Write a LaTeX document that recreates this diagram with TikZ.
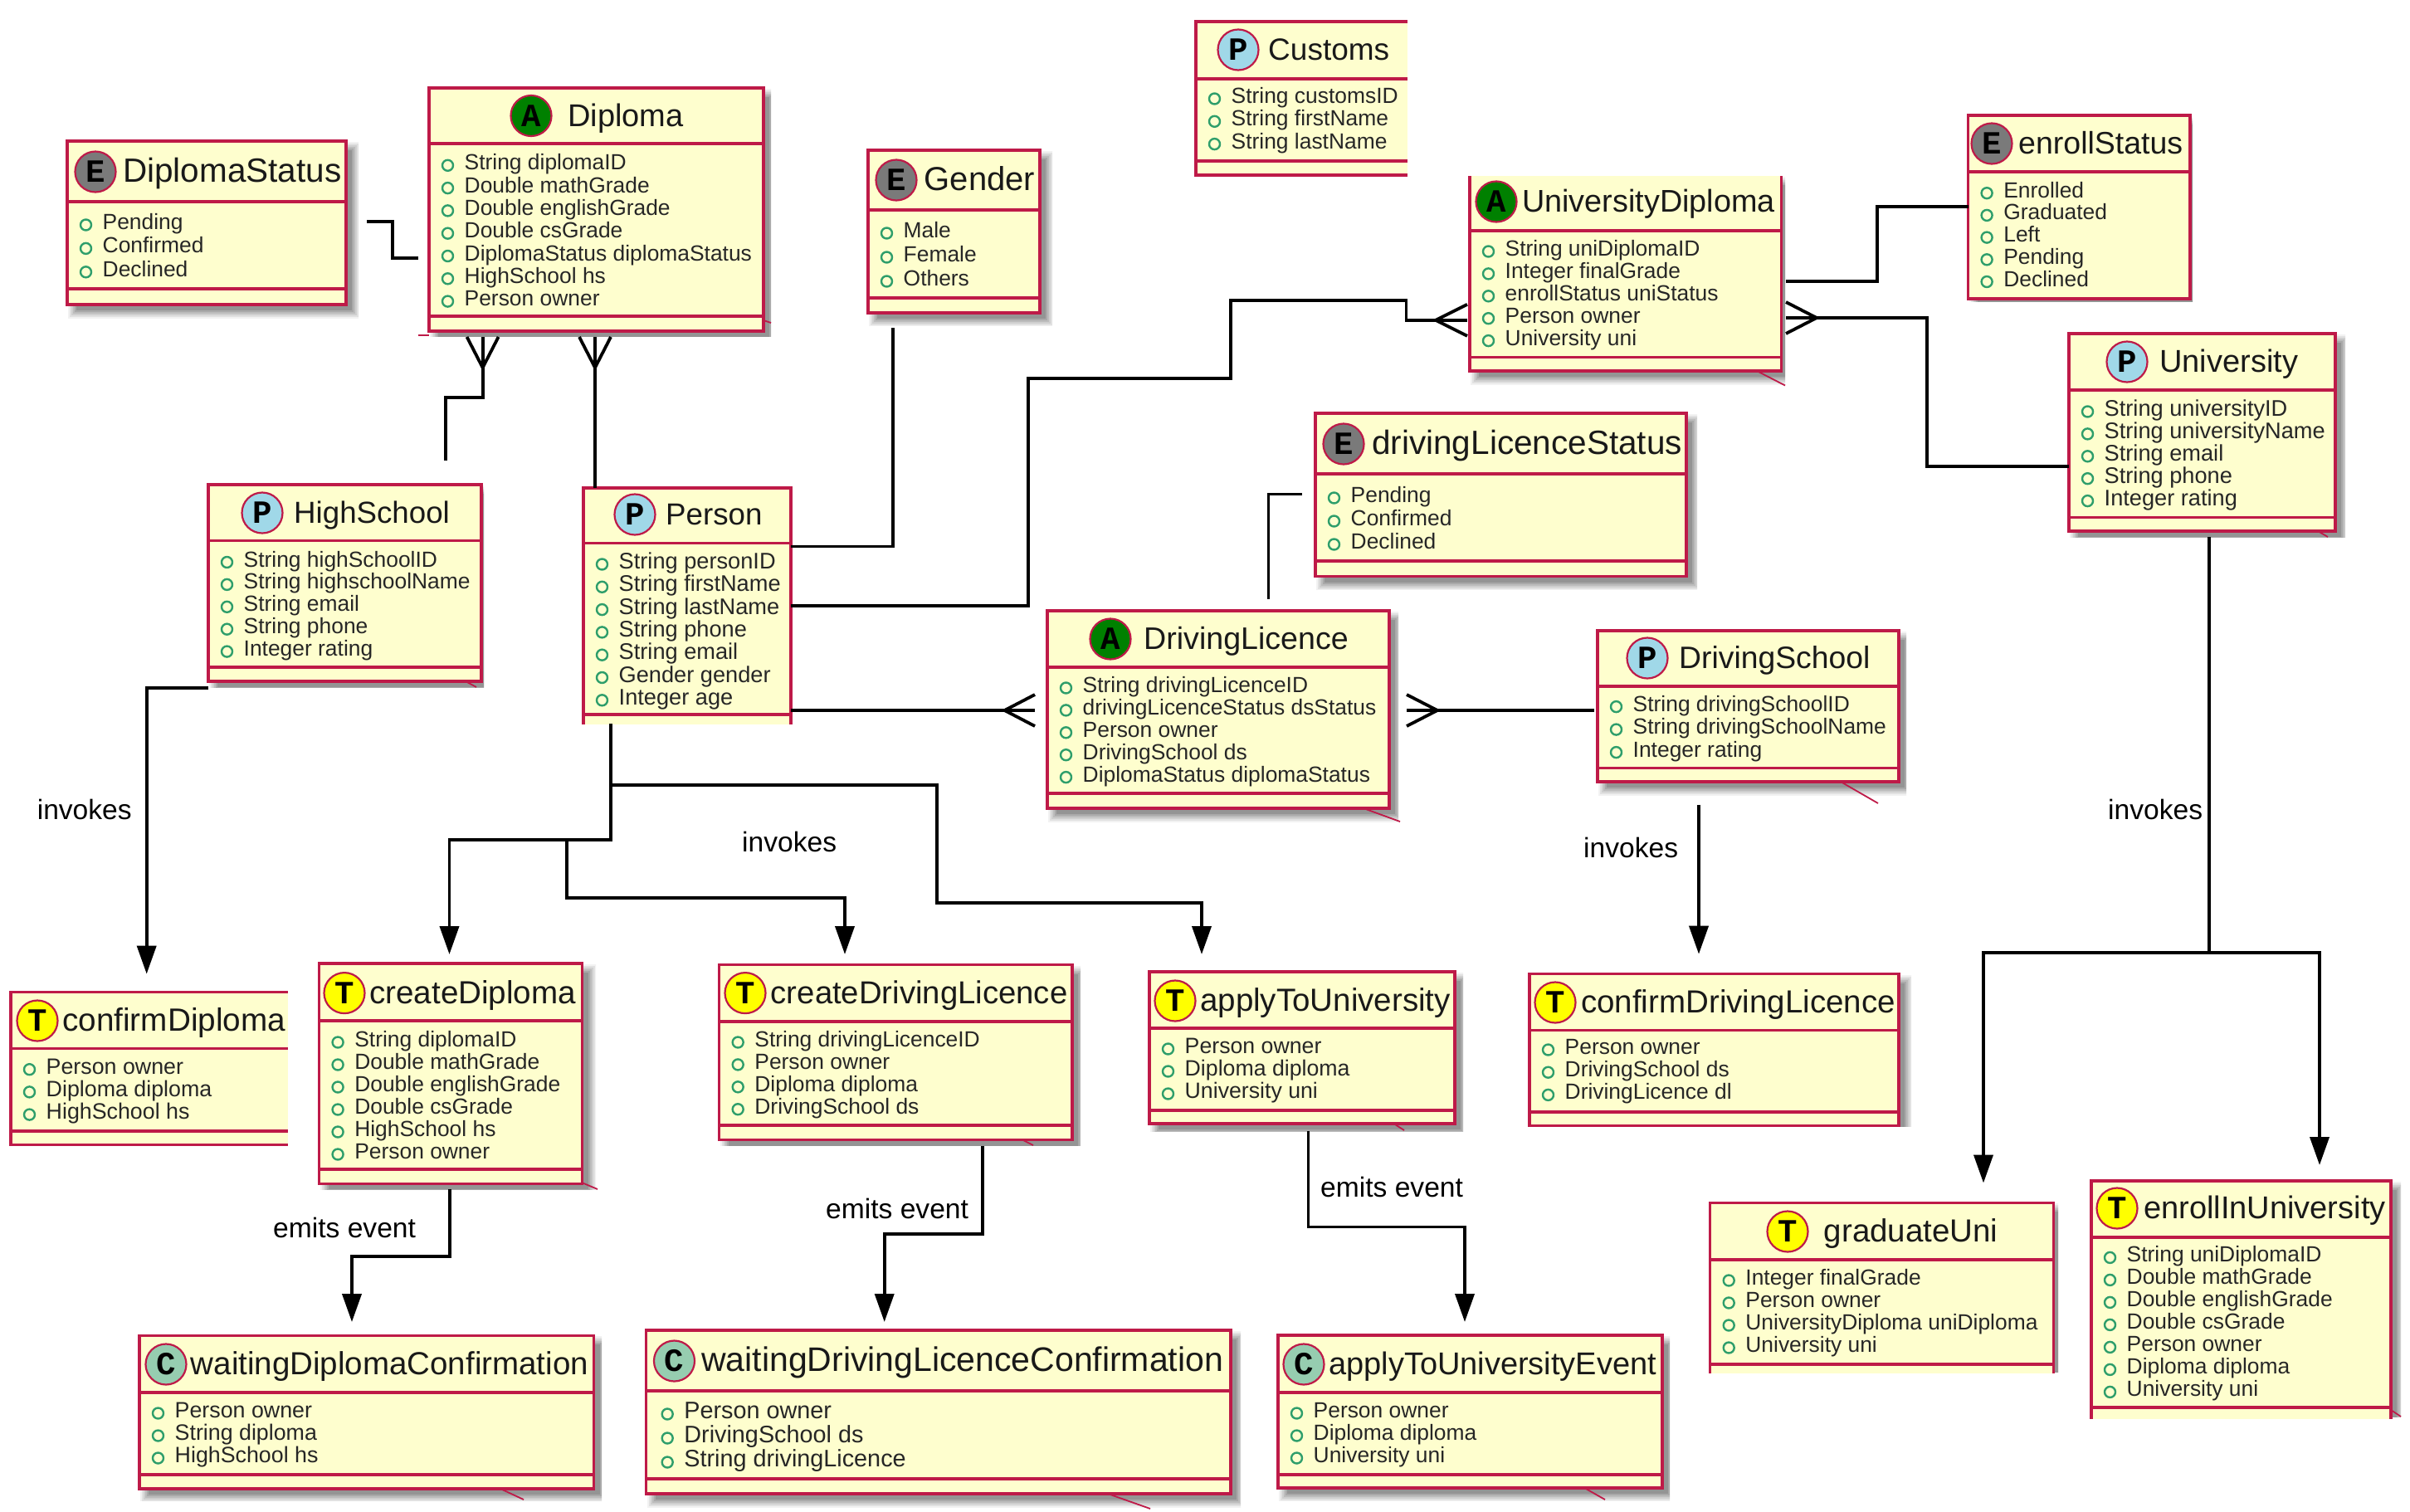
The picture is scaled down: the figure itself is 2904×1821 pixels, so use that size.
\documentclass[tikz,border=0pt]{standalone}
\usepackage{fontspec}
\setmainfont{Liberation Sans}
\newfontfamily\iconfont{Liberation Mono}
\usetikzlibrary{arrows.meta}
\definecolor{umlred}{HTML}{BE1A48}
\definecolor{umlfill}{HTML}{FEFECE}
\definecolor{umlgreen}{HTML}{2E9E6B}
\definecolor{iconE}{HTML}{7A7A7A}
\definecolor{iconA}{HTML}{008000}
\definecolor{iconP}{HTML}{A0D8E8}
\definecolor{iconT}{HTML}{FFFF00}
\definecolor{iconC}{HTML}{96CDB0}
\tikzset{
  boxfill/.style={rectangle,fill=umlfill,draw=none,inner sep=0pt,outer sep=0pt},
  umlline/.style={draw=umlred,line width=3.4pt},
  tailline/.style={draw=umlred,line width=1.8pt},
  iconnode/.style={circle,draw=umlred,line width=2.2pt,minimum size=49pt,inner sep=0pt,text=black},
  titletext/.style={anchor=base west,inner sep=0pt,text=black!90},
  rowtext/.style={anchor=base west,inner sep=0pt,text=black!85},
  rowmark/.style={circle,draw=umlgreen,line width=2.4pt,minimum size=13pt,inner sep=0pt},
  lbl/.style={anchor=base west,inner sep=0pt,font=\fontsize{33.6}{36}\selectfont},
  link/.style={draw=black,line width=3.8pt,line join=miter},
  arrowlink/.style={link,-{Triangle[length=34pt,width=23pt]}}
}
\newcommand{\umlframec}[1]{\draw[umlline] (#1.north west) rectangle (#1.south east);}
\newcommand{\umlframeb}[1]{\draw[umlline] (#1.south west) -- (#1.north west) -- (#1.north east) -- (#1.south east);}
\newcommand{\umlframet}[1]{\draw[umlline] (#1.north west) -- (#1.south west) -- (#1.south east) -- (#1.north east);}
\newcommand{\umlframer}[1]{\draw[umlline] (#1.north east) -- (#1.north west) -- (#1.south west) -- (#1.south east);}
\def\umlTO{42.5}\def\umlBO{22.5}
% name frame x0 y0 x1 y1 hdr sep
\newcommand{\umlbox}[8]{%
  \def\umlN{#1}\def\umlX{#3}%
  \pgfmathsetmacro\umlW{#5-#3}\pgfmathsetmacro\umlH{#6-#4}%
  \node[boxfill,minimum width=\umlW pt,minimum height=\umlH pt,anchor=north west] (#1) at (#3,#4) {};
  \draw[umlline] (#3,#7) -- (#5,#7);
  \draw[umlline] (#3,#8) -- (#5,#8);
  \csname umlframe#2\endcsname{#1}%
}
% [size] letter colour ix iy tx title
\newcommand{\umlhead}[7][38.5]{%
  \node[iconnode,fill=#3] (\umlN-i) at (#4,#5) {\iconfont\bfseries\fontsize{39}{39}\selectfont #2};
  \pgfmathsetmacro\umlTY{#5+12.5}%
  \node[titletext,font=\fontsize{#1}{42}\selectfont] (\umlN-t) at (#6,\umlTY) {#7};
}
% [size] first step rows
\newcommand{\umlrows}[4][26.4]{%
  \foreach \rowtxt [count=\ri from 0] in {#4} {%
    \pgfmathsetmacro\umlCY{#2+\ri*#3}%
    \node[rowmark] (\umlN-b\ri) at (\umlX+\umlBO,\umlCY+3) {};
    \node[rowtext,font=\fontsize{#1}{30}\selectfont] (\umlN-r\ri) at (\umlX+\umlTO,\umlCY+8.5) {\rowtxt};
  }%
}
% x0 y0 x1 y1 clipx clipy
\newcommand{\umlshadow}[6]{%
  \begin{scope}
    \clip (#1,#2) rectangle (#5,#6);
    \foreach \sd/\so in {8/.05,6/.07,4/.08,2/.09,0/.10,-2/.12} {
      \fill[black,opacity=\so] (#1+9-\sd,#2+9-\sd) rectangle (#3+9+\sd,#4+9+\sd);
    }
  \end{scope}
}
\newcommand{\crowV}[4]{\draw[link] (#1-#4,#3) -- (#1,#2) -- (#1+#4,#3);}
\newcommand{\crowH}[4]{\draw[link] (#3,#2-#4) -- (#1,#2) -- (#3,#2+#4);}
\begin{document}
\begin{tikzpicture}[x=1pt,y=-1pt]
\useasboundingbox (0,0) rectangle (2904,1821);
% shadows
\umlshadow{81}{170}{417}{367}{432}{385}
\umlshadow{517}{106}{920}{399}{929}{405}
\umlshadow{251}{584}{580}{821}{583}{828}
\umlshadow{1046}{181}{1253}{377}{1268}{392}
\umlshadow{1771}{212}{2146.5}{447}{2151}{464}
\umlshadow{1585}{498}{2032}{694.6}{2045}{710}
\umlshadow{1262}{736}{1674}{974}{1685}{990}
\umlshadow{1925}{760}{2288}{942}{2297}{968}
\umlshadow{2493}{402}{2814}{640}{2826}{647}
\umlshadow{2371.6}{139}{2639}{360}{2642}{363}
\umlshadow{384.6}{1161}{701.5}{1426.4}{718}{1433}
\umlshadow{866.7}{1162.5}{1292}{1373.6}{1302}{1380}
\umlshadow{1385}{1171}{1753}{1354}{1763}{1363}
\umlshadow{1843}{1173.6}{2288}{1356.6}{2303}{1357}
\umlshadow{168}{1609.4}{715.5}{1794}{725}{1808}
\umlshadow{778.7}{1603}{1483}{1800}{1495}{1818}
\umlshadow{1540}{1609}{2003}{1793}{2012}{1808}
\umlshadow{2060.7}{1449.4}{2474.5}{1653}{2480}{1653}
\umlshadow{2520}{1422.8}{2881}{1707}{2893}{1707}
% classes
\umlbox{DiplomaStatus}{c}{81}{170}{417}{367}{243}{348}
\umlhead[40.5]{E}{iconE}{115}{207}{148}{DiplomaStatus}
\umlrows{268}{28.4}{Pending,Confirmed,Declined}

\umlbox{Diploma}{c}{517}{106}{920}{399}{173}{381}
\umlhead[38]{A}{iconA}{640}{139.5}{684}{Diploma}
\umlrows{196.3}{27.3}{String diplomaID,Double mathGrade,Double englishGrade,Double csGrade,DiplomaStatus diplomaStatus,HighSchool hs,Person owner}

\umlbox{Customs}{r}{1441}{26}{1696}{211}{95}{194}
\umlhead[37]{P}{iconP}{1492}{60}{1528}{Customs}
\umlrows{116}{27.3}{String customsID,String firstName,String lastName}

\umlbox{Gender}{c}{1046}{181}{1253}{377}{253}{359}
\umlhead[40]{E}{iconE}{1080}{217}{1113.5}{Gender}
\umlrows{278}{29}{Male,Female,Others}

\umlbox{UniversityDiploma}{t}{1771}{212}{2146.5}{447}{278}{430.5}
\umlhead[37.8]{A}{iconA}{1803}{243}{1834}{UniversityDiploma}
\umlrows{300}{26.9}{String uniDiplomaID,Integer finalGrade,enrollStatus uniStatus,Person owner,University uni}

\umlbox{enrollStatus}{c}{2371.6}{139}{2639}{360}{207}{360}
\umlhead[37.5]{E}{iconE}{2400}{173}{2432}{enrollStatus}
\umlrows{229.7}{26.7}{Enrolled,Graduated,Left,Pending,Declined}

\umlbox{University}{c}{2493}{402}{2814}{640}{470}{623.5}
\umlhead[38]{P}{iconP}{2563}{436}{2602}{University}
\umlrows[27.2]{493}{26.9}{String universityID,String universityName,String email,String phone,Integer rating}

\umlbox{drivingLicenceStatus}{c}{1585}{498}{2032}{694.6}{571}{676}
\umlhead[40.5]{E}{iconE}{1619}{535}{1653}{drivingLicenceStatus}
\umlrows{597}{28}{Pending,Confirmed,Declined}

\umlbox{HighSchool}{c}{251}{584}{580}{821}{651.5}{804}
\umlhead[36.7]{P}{iconP}{316}{618}{354}{HighSchool}
\umlrows{674.5}{26.9}{String highSchoolID,String highschoolName,String email,String phone,Integer rating}

\umlbox{Person}{b}{703}{588}{953}{872.6}{654.4}{861}
\umlhead[36.7]{P}{iconP}{765}{620}{802}{Person}
\umlrows[27.2]{677}{27.3}{String personID,String firstName,String lastName,String phone,String email,Gender gender,Integer age}

\umlbox{DrivingLicence}{c}{1262}{736}{1674}{974}{804}{956}
\umlhead[37.6]{A}{iconA}{1338}{770}{1378}{DrivingLicence}
\umlrows{826}{26.9}{String drivingLicenceID,drivingLicenceStatus dsStatus,Person owner,DrivingSchool ds,DiplomaStatus diplomaStatus}

\umlbox{DrivingSchool}{c}{1925}{760}{2288}{942}{827}{925.5}
\umlhead[37.3]{P}{iconP}{1985}{793}{2023}{DrivingSchool}
\umlrows{848.6}{27.5}{String drivingSchoolID,String drivingSchoolName,Integer rating}

\umlbox{confirmDiploma}{r}{13}{1195.6}{347}{1379.5}{1263.7}{1363}
\umlhead[38.7]{T}{iconT}{45}{1230}{75}{confirmDiploma}
\umlrows[26.8]{1285.7}{27.2}{Person owner,Diploma diploma,HighSchool hs}

\umlbox{createDiploma}{c}{384.6}{1161}{701.5}{1426.4}{1230}{1409}
\umlhead[38.6]{T}{iconT}{415}{1196.6}{445}{createDiploma}
\umlrows{1253}{27}{String diplomaID,Double mathGrade,Double englishGrade,Double csGrade,HighSchool hs,Person owner}

\umlbox{createDrivingLicence}{c}{866.7}{1162.5}{1292}{1373.6}{1231}{1356}
\umlhead[38.3]{T}{iconT}{898}{1196.6}{928.6}{createDrivingLicence}
\umlrows{1253}{26.9}{String drivingLicenceID,Person owner,Diploma diploma,DrivingSchool ds}

\umlbox{applyToUniversity}{c}{1385}{1171}{1753}{1354}{1239}{1338}
\umlhead{T}{iconT}{1416}{1206}{1446}{applyToUniversity}
\umlrows[26.7]{1261}{27}{Person owner,Diploma diploma,University uni}

\umlbox{confirmDrivingLicence}{c}{1843}{1173.6}{2288}{1356.6}{1241.6}{1340}
\umlhead{T}{iconT}{1874}{1208}{1905}{confirmDrivingLicence}
\umlrows{1262}{27.2}{Person owner,DrivingSchool ds,DrivingLicence dl}

\umlbox{graduateUni}{b}{2060.7}{1449.4}{2474.5}{1655.4}{1518}{1644}
\umlhead{T}{iconT}{2154}{1484}{2197.6}{graduateUni}
\umlrows{1540}{27}{Integer finalGrade,Person owner,UniversityDiploma uniDiploma,University uni}

\umlbox{enrollInUniversity}{b}{2520}{1422.8}{2881}{1709.7}{1491}{1696}
\umlhead[38]{T}{iconT}{2551}{1456}{2583}{enrollInUniversity}
\umlrows{1512.4}{27}{String uniDiplomaID,Double mathGrade,Double englishGrade,Double csGrade,Person owner,Diploma diploma,University uni}

\umlbox{waitingDiplomaConfirmation}{c}{168}{1609.4}{715.5}{1794}{1678}{1777}
\umlhead{C}{iconC}{200}{1644}{229.6}{waitingDiplomaConfirmation}
\umlrows[26.8]{1700}{27}{Person owner,String diploma,HighSchool hs}

\umlbox{waitingDrivingLicenceConfirmation}{c}{778.7}{1603}{1483}{1800}{1676}{1782}
\umlhead[41]{C}{iconC}{812.5}{1640}{845}{waitingDrivingLicenceConfirmation}
\def\umlTO{45.5}\def\umlBO{25.5}
\umlrows[28.8]{1701}{29}{Person owner,DrivingSchool ds,String drivingLicence}
\def\umlTO{42.5}\def\umlBO{22.5}

\umlbox{applyToUniversityEvent}{c}{1540}{1609}{2003}{1793}{1678}{1777}
\umlhead[38]{C}{iconC}{1571}{1644}{1601}{applyToUniversityEvent}
\umlrows{1700}{27}{Person owner,Diploma diploma,University uni}

% small note tails
\draw[tailline] (920,386) -- (929,389);
\draw[tailline] (504,404) -- (517,404);
\draw[tailline] (561,821) -- (574,828);
\draw[tailline] (2117,447) -- (2151,464.5);
\draw[tailline] (1643,974) -- (1687,990);
\draw[tailline] (2218,942) -- (2263,968);
\draw[tailline] (2793,640) -- (2805,647);
\draw[tailline] (701,1425) -- (720,1433);
\draw[tailline] (1233,1374) -- (1245,1380);
\draw[tailline] (1681,1355) -- (1692,1362);
\draw[tailline] (603,1794) -- (631,1807);
\draw[tailline] (1335,1800) -- (1386,1818);
\draw[tailline] (1911,1794) -- (1934,1807);
\draw[tailline] (2881,1699) -- (2893,1707);

% connector ends
\coordinate (dsA) at (442,267);
\coordinate (dsB) at (504,310.6);
\coordinate (hsA) at (537,554.5);
\coordinate (hsB) at (581.6,406);
\coordinate (pdA) at (717,588);
\coordinate (pdB) at (717,406);
\coordinate (pgA) at (953,658.4);
\coordinate (pgB) at (1076,395);
\coordinate (puA) at (953,729.6);
\coordinate (puB) at (1768,385.8);
\coordinate (plA) at (953,856);
\coordinate (plB) at (1247,856);
\coordinate (lsA) at (1921,856);
\coordinate (lsB) at (1695,856);
\coordinate (lstA) at (1569,595);
\coordinate (lstB) at (1528,721.6);
\coordinate (ueA) at (2152,339);
\coordinate (ueB) at (2371.6,249);
\coordinate (uuA) at (2493,562);
\coordinate (uuB) at (2152,383);
\coordinate (hcA) at (251,829);
\coordinate (hcB) at (176.7,1173.6);
\coordinate (pcA) at (736,872);
\coordinate (pcB) at (541.5,1150);
\coordinate (pdlB) at (1018,1150);
\coordinate (pauB) at (1448,1150);
\coordinate (dcA) at (2047,969.7);
\coordinate (dcB) at (2047,1149.7);
\coordinate (ugA) at (2662,647);
\coordinate (ugB) at (2390,1425.5);
\coordinate (uiB) at (2795,1404);
\coordinate (cwA) at (542,1433);
\coordinate (cwB) at (424,1593);
\coordinate (clA) at (1183.7,1380.5);
\coordinate (clB) at (1065.7,1593);
\coordinate (aeA) at (1576.5,1363);
\coordinate (aeB) at (1765,1593);

% connectors
\draw[link] (dsA) -- (473,267) -- (473,310.6) -- (dsB);
\draw[link] (hsA) -- (537,479) -- (581.6,479) -- (hsB);
\crowV{581.6}{443}{406}{19}
\draw[link] (pdA) -- (pdB);
\crowV{717}{443}{406}{19}
\draw[link] (pgA) -- (1076,658.4) -- (pgB);
\draw[link] (puA) -- (1239,729.6) -- (1239,456) -- (1483,456) -- (1483,361.6) -- (1694.5,361.6) -- (1694.5,385.8) -- (puB);
\crowH{1730}{385.8}{1768}{19}
\draw[link] (plA) -- (plB);
\crowH{1210.5}{856}{1247}{19}
\draw[link] (lsA) -- (lsB);
\crowH{1732}{856}{1695}{19}
\draw[link,line width=3pt] (lstA) -- (1528,595) -- (lstB);
\draw[link] (ueA) -- (2262,339) -- (2262,249) -- (ueB);
\draw[link] (uuA) -- (2322,562) -- (2322,383) -- (uuB);
\crowH{2189}{383}{2152}{19}
\draw[arrowlink] (hcA) -- (176.7,829) -- (hcB);
\draw[arrowlink] (pcA) -- (736,1011.7) -- (541.5,1011.7) -- (pcB);
\draw[arrowlink] (683,1011.7) -- (683,1081.7) -- (1018,1081.7) -- (pdlB);
\draw[arrowlink] (736,945.7) -- (1129,945.7) -- (1129,1087.7) -- (1448,1087.7) -- (pauB);
\draw[arrowlink] (dcA) -- (dcB);
\draw[arrowlink] (ugA) -- (2662,1148.3) -- (2390,1148.3) -- (ugB);
\draw[arrowlink] (2662,1148.3) -- (2795,1148.3) -- (uiB);
\draw[arrowlink] (cwA) -- (542,1514) -- (424,1514) -- (cwB);
\draw[arrowlink] (clA) -- (1183.7,1487) -- (1065.7,1487) -- (clB);
\draw[arrowlink] (aeA) -- (1576.5,1478.4) -- (1765,1478.4) -- (aeB);

% labels
\node[lbl] (l1) at (44.6,987) {invokes};
\node[lbl] (l2) at (894,1026) {invokes};
\node[lbl] (l3) at (1908,1033) {invokes};
\node[lbl] (l4) at (2540,987) {invokes};
\node[lbl] (l5) at (329,1491) {emits event};
\node[lbl] (l6) at (995,1468) {emits event};
\node[lbl] (l7) at (1591,1442) {emits event};
\end{tikzpicture}
\end{document}
